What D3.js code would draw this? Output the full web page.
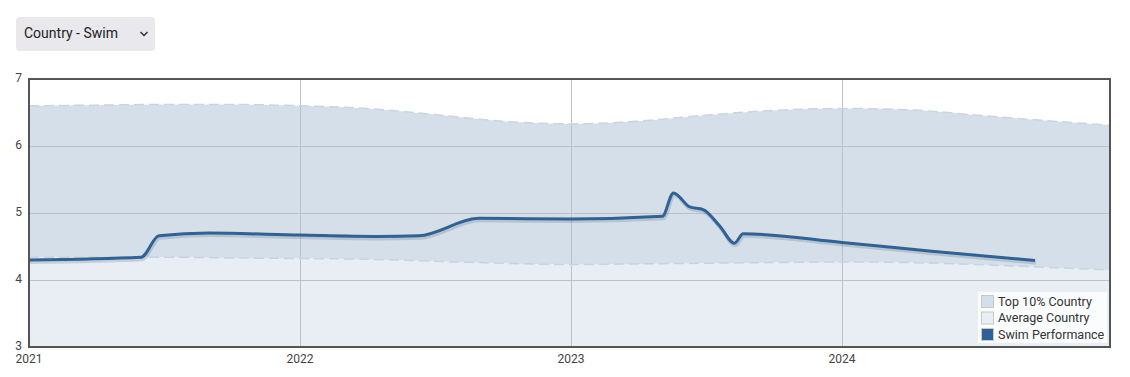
<!DOCTYPE html>
<html>
<head>
<meta charset="utf-8">
<script src="https://cdn.jsdelivr.net/npm/d3@7"></script>
<style>
  html, body { margin: 0; padding: 0; background: #fff; width: 1130px; height: 377px; overflow: hidden; font-family: Roboto, "Noto Sans", sans-serif; }
  #dd { position: absolute; left: 16px; top: 17px; width: 139px; height: 34px; background: #e9e9ed; border-radius: 4px; box-sizing: border-box; font-size: 14px; color: #222; }
  #dd span { position: absolute; left: 8px; top: 8px; }
  #dd svg { position: absolute; right: 6px; top: 13px; }
  #chart { position: absolute; left: 0; top: 0; }
</style>
</head>
<body>
<div id="dd"><span>Country - Swim</span><svg width="10" height="8"><path d="M1.5,2 L5,5.5 L8.5,2" fill="none" stroke="#333" stroke-width="1.5"/></svg></div>
<svg id="chart" width="1130" height="377"></svg>
<script>
// ---- data ----
const bandDates = ["2021-01-01","2021-04-01","2021-07-01","2021-10-01","2022-01-01","2022-04-01","2022-07-01","2022-10-01","2023-01-01","2023-04-01","2023-07-01","2023-10-01","2024-01-01","2024-04-01","2024-07-01","2024-10-01","2024-12-27"];
const top10Values = [6.60,6.61,6.62,6.62,6.60,6.56,6.47,6.37,6.33,6.37,6.46,6.53,6.56,6.54,6.46,6.38,6.31];
const averageValues = [4.34,4.34,4.34,4.33,4.32,4.31,4.28,4.25,4.23,4.24,4.25,4.26,4.27,4.26,4.23,4.19,4.15];
const swimDates = ["2021-01-01","2021-06-01","2021-06-25","2021-09-01","2022-01-01","2022-04-15","2022-06-10","2022-08-30","2023-01-01","2023-05-04","2023-05-19","2023-06-10","2023-06-28","2023-07-20","2023-08-09","2023-08-21","2024-01-01","2024-05-01","2024-09-17"];
const swimValues = [4.30,4.34,4.66,4.70,4.67,4.65,4.66,4.92,4.91,4.95,5.30,5.09,5.05,4.81,4.55,4.69,4.56,4.43,4.29];
const yTicks = [3,4,5,6,7];
const xTickYears = ["2021","2022","2023","2024"];
const legendLabels = ["Top 10% Country","Average Country","Swim Performance"];
const dropdownLabel = "Country - Swim";

const parse = d3.timeParse("%Y-%m-%d");
const band = bandDates.map((d,i)=>({date: parse(d), top: top10Values[i], avg: averageValues[i]}));
const swim = swimDates.map((d,i)=>({date: parse(d), v: swimValues[i]}));

const svg = d3.select("#chart");
const L = 29, R = 1110, T = 79, B = 347;
const x = d3.scaleTime().domain([parse("2021-01-01"), parse("2024-12-27")]).range([L, R]);
const y = d3.scaleLinear().domain([3, 7]).range([B, T]);
const curve = d3.curveMonotoneX;

svg.append("defs").append("clipPath").attr("id","clip").append("rect").attr("x",L).attr("y",T).attr("width",R-L).attr("height",B-T);
const g = svg.append("g").attr("clip-path","url(#clip)");

g.append("path").datum(band)
  .attr("d", d3.area().x(d=>x(d.date)).y0(y(3)).y1(d=>y(d.avg)).curve(curve))
  .attr("fill","#e9eef5");
g.append("path").datum(band)
  .attr("d", d3.area().x(d=>x(d.date)).y0(d=>y(d.avg)).y1(d=>y(d.top)).curve(curve))
  .attr("fill","#d5dfe9");

g.selectAll(".hg").data(yTicks.filter(t=>t>3 && t<7)).enter().append("line")
  .attr("x1",L).attr("x2",R).attr("y1",d=>y(d)+0.5).attr("y2",d=>y(d)+0.5)
  .attr("stroke","#bcc1c7").attr("stroke-width",1);
g.selectAll(".vg").data(xTickYears.slice(1)).enter().append("line")
  .attr("x1",d=>Math.round(x(parse(d+"-01-01")))+0.5).attr("x2",d=>Math.round(x(parse(d+"-01-01")))+0.5)
  .attr("y1",T).attr("y2",B)
  .attr("stroke","#bcc1c7").attr("stroke-width",1);

g.append("path").datum(band)
  .attr("d", d3.line().x(d=>x(d.date)).y(d=>y(d.top)).curve(curve))
  .attr("fill","none").attr("stroke","#c9d5e2").attr("stroke-width",1.5).attr("stroke-dasharray","10,5");
g.append("path").datum(band)
  .attr("d", d3.line().x(d=>x(d.date)).y(d=>y(d.avg)).curve(curve))
  .attr("fill","none").attr("stroke","#c6d3e1").attr("stroke-width",1.5).attr("stroke-dasharray","10,5");

const swimLine = d3.line().x(d=>x(d.date)).y(d=>y(d.v)).curve(curve);
g.append("path").datum(swim).attr("d", swimLine)
  .attr("transform","translate(1,2)")
  .attr("fill","none").attr("stroke","rgba(90,90,90,0.22)").attr("stroke-width",4).attr("stroke-linejoin","round");
g.append("path").datum(swim).attr("d", swimLine)
  .attr("fill","none").attr("stroke","#2e6298").attr("stroke-width",3).attr("stroke-linejoin","round").attr("stroke-linecap","butt");

svg.append("rect").attr("x",L).attr("y",T).attr("width",R-L).attr("height",B-T)
  .attr("fill","none").attr("stroke","#555").attr("stroke-width",2);

svg.selectAll(".yl").data(yTicks).enter().append("text")
  .attr("x",22).attr("y",d=>y(d)-1).attr("dy","0.35em").attr("text-anchor","end")
  .attr("font-size",12).attr("fill","#444").text(d=>d);
svg.selectAll(".xl").data(xTickYears).enter().append("text")
  .attr("x",d=>x(parse(d+"-01-01"))).attr("y",363).attr("text-anchor","middle")
  .attr("font-size",12).attr("fill","#444").text(d=>d);

const lg = svg.append("g");
lg.append("rect").attr("x",978).attr("y",292).attr("width",129).attr("height",51).attr("fill","rgba(255,255,255,0.8)");
const swatch = ["#d5dfe9","#e9eef5","#2e6298"];
legendLabels.forEach((t,i)=>{
  const yy = 295 + i*16.5;
  lg.append("rect").attr("x",981.5).attr("y",yy+0.5).attr("width",12).attr("height",12)
    .attr("fill",swatch[i]).attr("stroke","#c8c8c8").attr("stroke-width",1);
  lg.append("text").attr("x",998).attr("y",yy+6.5).attr("dy","0.35em")
    .attr("font-size",12.5).attr("fill","#333").text(t);
});
d3.select("#dd span").text(dropdownLabel);
</script>
</body>
</html>
